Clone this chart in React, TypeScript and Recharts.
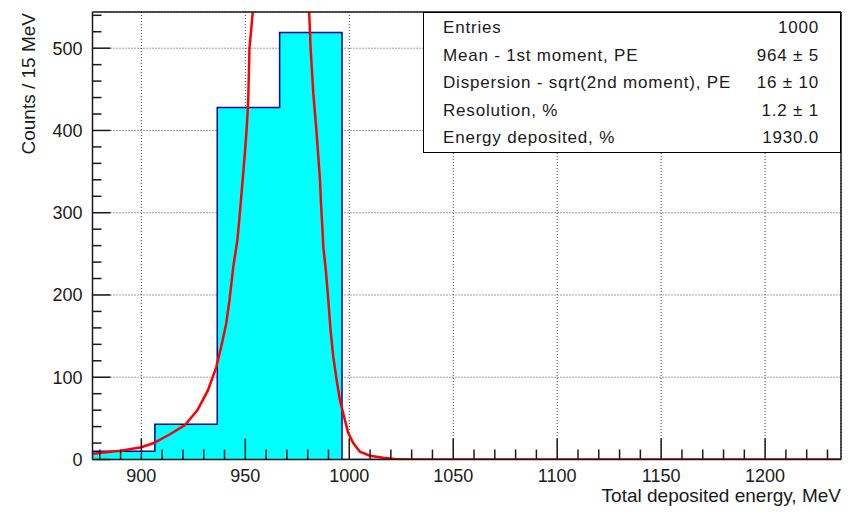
import { ComposedChart, Area, Line, XAxis, YAxis, CartesianGrid } from "recharts"

// histogram bins (left edges, MeV) and counts
const binEdges = [876.5, 906.5, 936.5, 966.5, 996.5, 1236.5]
const binCounts = [10, 43, 428, 519, 0, 0]

// red fit curve
const fitE = [876.5, 882, 890, 900, 906, 914, 921, 927, 932, 936, 938.4, 940.8, 942.4, 944.2, 946.2, 947.5, 948.6, 949.9, 950.7, 951.4, 952, 953.6, 956, 960, 967, 974, 978, 980.7, 981.4, 982.7, 984.2, 985.1, 985.9, 986.4, 987, 987.5, 988.8, 989.9, 991, 992.3, 993.9, 995.5, 997.1, 999.5, 1001.9, 1005.1, 1009.9, 1016.3, 1022, 1030, 1050, 1236.5]
const fitY = [7, 8.5, 10.7, 15, 20, 31, 42, 60, 84, 112, 137, 165, 194, 234, 267, 303, 336, 376, 404, 437, 500, 544, 650, 800, 900, 820, 680, 544, 500, 445, 400, 368, 340, 311, 285, 259, 228, 194, 157, 125, 97, 72, 56, 32, 20, 9.5, 4.6, 2, 0.6, 0.1, 0, 0]

const xMajor = [900, 950, 1000, 1050, 1100, 1150, 1200]
const xMinor = [880, 890, 910, 920, 930, 940, 960, 970, 980, 990, 1010, 1020, 1030, 1040, 1060, 1070, 1080, 1090, 1110, 1120, 1130, 1140, 1160, 1170, 1180, 1190, 1210, 1220, 1230]
const yMajor = [0, 100, 200, 300, 400, 500]
const yMinor = [20, 40, 60, 80, 120, 140, 160, 180, 220, 240, 260, 280, 320, 340, 360, 380, 420, 440, 460, 480, 520, 540]

const statNames = ["Entries", "Mean - 1st moment, PE", "Dispersion - sqrt(2nd moment), PE", "Resolution, %", "Energy deposited, %"]
const statValues = ["1000", "964 ± 5", "16 ± 10", "1.2 ± 1", "1930.0"]

const histData = binEdges.map((x, i) => ({ x, count: binCounts[i] }))
const fitData = fitE.map((x, i) => ({ x, fit: fitY[i] }))

const FONT = '"Liberation Sans", Arial, Helvetica, sans-serif'
const W = 853
const H = 513
// top/right axes are 1px wide so the frame closes; the plot runs 92.5..841 x 12..459.5
const M = { top: 11, right: 11, left: 0, bottom: 0 }
const YW = 92.5
const XH = 53.5
const PW = W - M.right - 1 - M.left - YW
const PH = H - M.top - 1 - M.bottom - XH
const INK = "#1a1a1a"

function XMajorTick(p: any) {
  const { x, y, payload } = p
  return (
    <g>
      <line x1={x} x2={x} y1={y} y2={y - 21} stroke={INK} strokeWidth={1.5} />
      <text x={x} y={y + 22.5} textAnchor="middle" fontSize={18} fontFamily={FONT} fill={INK}>
        {payload.value}
      </text>
    </g>
  )
}

// minor ticks hang off the top axis but are drawn at the bottom edge of the frame
function XMinorTick(p: any) {
  const { x, y } = p
  return <line x1={x} x2={x} y1={y + PH} y2={y + PH - 10} stroke={INK} strokeWidth={1.5} />
}

function YMajorTick(p: any) {
  const { x, y, payload } = p
  return (
    <g>
      <line x1={x} x2={x + 18} y1={y} y2={y} stroke={INK} strokeWidth={1.5} />
      <text x={x - 10} y={y} dy="0.36em" textAnchor="end" fontSize={18} fontFamily={FONT} fill={INK}>
        {payload.value}
      </text>
    </g>
  )
}

// minor ticks hang off the right axis but are drawn at the left edge of the frame
function YMinorTick(p: any) {
  const { x, y } = p
  return <line x1={x - PW} x2={x - PW + 9} y1={y} y2={y} stroke={INK} strokeWidth={1.5} />
}

export default function App() {
  return (
    <div style={{ position: "absolute", left: 0, top: 0, width: W, height: H, background: "#fff", fontFamily: FONT }}>
      <ComposedChart width={W} height={H} margin={M}>
        <CartesianGrid stroke="#444" strokeDasharray="1 2" />
        <Area
          data={histData}
          dataKey="count"
          type="stepAfter"
          stroke="#00009a"
          strokeWidth={1.5}
          fill="#00ffff"
          fillOpacity={1}
          baseValue={0}
          isAnimationActive={false}
        />
        <Line
          data={fitData}
          dataKey="fit"
          type="linear"
          stroke="#ff0000"
          strokeWidth={2.5}
          dot={false}
          isAnimationActive={false}
        />
        <XAxis
          dataKey="x"
          type="number"
          domain={[876.5, 1236.5]}
          allowDataOverflow
          ticks={xMajor}
          interval={0}
          height={XH}
          tickSize={0}
          tickMargin={0}
          tickLine={false}
          tick={<XMajorTick />}
          axisLine={{ stroke: INK, strokeWidth: 1.5 }}
        />
        <XAxis
          xAxisId="top"
          orientation="top"
          dataKey="x"
          type="number"
          domain={[876.5, 1236.5]}
          allowDataOverflow
          ticks={xMinor}
          interval={0}
          height={1}
          tickSize={0}
          tickMargin={0}
          tickLine={false}
          tick={<XMinorTick />}
          axisLine={{ stroke: INK, strokeWidth: 1.5 }}
        />
        <YAxis
          type="number"
          domain={[0, 544]}
          allowDataOverflow
          ticks={yMajor}
          interval={0}
          width={YW}
          tickSize={0}
          tickMargin={0}
          tickLine={false}
          tick={<YMajorTick />}
          axisLine={{ stroke: INK, strokeWidth: 1.5 }}
        />
        <YAxis
          yAxisId="right"
          orientation="right"
          type="number"
          domain={[0, 544]}
          allowDataOverflow
          ticks={yMinor}
          interval={0}
          width={1}
          tickSize={0}
          tickMargin={0}
          tickLine={false}
          tick={<YMinorTick />}
          axisLine={{ stroke: INK, strokeWidth: 1.5 }}
        />
      </ComposedChart>

      {/* axis titles */}
      <div
        style={{
          position: "absolute",
          left: 0,
          top: 0,
          width: 200,
          textAlign: "right",
          fontSize: 19,
          lineHeight: "19px",
          whiteSpace: "nowrap",
          color: INK,
          transformOrigin: "0 0",
          transform: "translate(18.5px, 213px) rotate(-90deg)",
        }}
      >
        Counts / 15 MeV
      </div>
      <div
        style={{
          position: "absolute",
          right: 12,
          top: 489,
          fontSize: 19,
          lineHeight: "13px",
          whiteSpace: "nowrap",
          color: INK,
        }}
      >
        Total deposited energy, MeV
      </div>

      {/* stats box */}
      <div
        style={{
          position: "absolute",
          left: 423,
          top: 12,
          width: 418,
          height: 141,
          boxSizing: "border-box",
          border: "1px solid #000",
          background: "#fff",
          padding: "1px 21px 0 19px",
          fontSize: 17,
          letterSpacing: 0.8,
          color: INK,
        }}
      >
        {statNames.map((name, i) => (
          <div key={name} style={{ display: "flex", justifyContent: "space-between", height: 27.5, lineHeight: "27.5px", whiteSpace: "nowrap" }}>
            <span>{name}</span>
            <span>{statValues[i]}</span>
          </div>
        ))}
      </div>
    </div>
  )
}
